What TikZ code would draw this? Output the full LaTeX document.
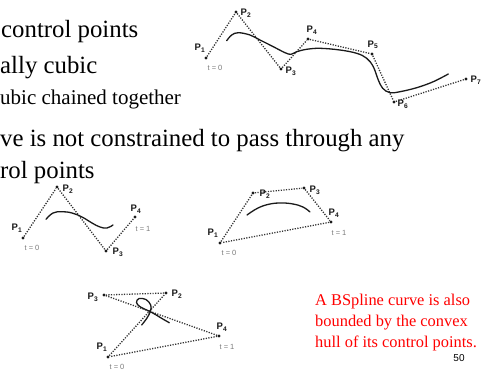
\documentclass[tikz,border=0pt]{standalone}
\usepackage{fontspec}
\setmainfont{Liberation Serif}
\setsansfont{Liberation Sans}
\usetikzlibrary{positioning}
\definecolor{Ink}{HTML}{1A1A1A}
\definecolor{Dots}{HTML}{333333}
\definecolor{Muted}{HTML}{7A7A7A}
\definecolor{Note}{HTML}{FF0000}
\tikzset{
 bullet/.style={anchor=base west, inner sep=0pt, font=\fontsize{24.8}{28}\selectfont},
 subbullet/.style={bullet, font=\fontsize{21}{24}\selectfont},
 note/.style={anchor=base west, inner sep=0pt, text=Note, font=\fontsize{16.4}{20}\selectfont},
 dot/.style={circle, fill=Ink, inner sep=0pt, minimum size=3.4pt},
 plab/.style={inner sep=0pt, text=Ink, font=\sffamily\bfseries\fontsize{9.5}{10}\selectfont},
 tlab/.style={inner sep=0pt, text=Muted, font=\sffamily\fontsize{7.5}{8}\selectfont},
 hull/.style={draw=Dots, line width=1.3pt, dash pattern=on 1.2pt off 1.4pt},
 spline/.style={draw=Ink, line width=1.3pt, line cap=round}
}

\begin{document}
\begin{tikzpicture}[x=1pt,y=-1pt]
\useasboundingbox (0,0) rectangle (486,372);
% slide text
\node[bullet] (l1) at (1,37) {control points};
\node[bullet] (l2) at (0,73) {ally cubic};
\node[subbullet] (l3) at (0,104) {ubic chained together};
\node[bullet] (l4) at (0,146) {ve is not constrained to pass through any};
\node[bullet] (l5) at (0,178) {rol points};
% chained spline, 7 points
\foreach \n/\x/\y/\lx/\ly in {1/206/58/200/48, 2/236/12/246/13, 3/281/69/291/71, 4/308/39/312/30, 5/372/54/373/45, 6/394/102/403/104, 7/466/79/476/80}{
  \node[dot] (a\n) at (\x,\y) {};
  \node[plab] (la\n) at (\lx,\ly) {P\textsubscript{\n}};
}
\node[tlab] (ta) at (215,68) {t = 0};
\draw[hull] (a1) -- (a2) -- (a3) -- (a4) -- (a5) -- (a6) -- (a7);
\draw[spline] plot[smooth, tension=.6] coordinates {(226.7,40.7) (231.7,35) (238.3,32.7) (250,35) (260,40) (273.3,46.7) (285,52.7) (291,54.3) (296.7,51.7) (306.7,49.3) (320,48.3) (340,50) (356.7,53.3) (366.7,58.3) (373.3,66.7) (378.3,80) (382.7,88.3) (390,92.7) (400,91.7) (416.7,87.7) (433.3,81.7) (448.3,74)};
% open hull
\foreach \n/\x/\y/\lx/\ly in {1/23/238/17/228, 2/57/187/68/189, 3/106/251/118/252, 4/135/217/136/209}{
  \node[dot] (b\n) at (\x,\y) {};
  \node[plab] (lb\n) at (\lx,\ly) {P\textsubscript{\n}};
}
\node[tlab] (tb0) at (32,248) {t = 0};
\node[tlab] (tb1) at (143,229) {t = 1};
\draw[hull] (b1) -- (b2) -- (b3) -- (b4);
\draw[spline] plot[smooth, tension=.7] coordinates {(46,219.3) (53,213) (62,211.7) (72,213) (82,217) (92,223) (100,227) (107,228) (113,225)};
% closed hull
\foreach \n/\x/\y/\lx/\ly in {1/220/243/213/233, 2/253/193/265/194, 3/304/188/315/190, 4/331/222/334/213}{
  \node[dot] (c\n) at (\x,\y) {};
  \node[plab] (lc\n) at (\lx,\ly) {P\textsubscript{\n}};
}
\node[tlab] (tc0) at (229,253) {t = 0};
\node[tlab] (tc1) at (339,233) {t = 1};
\draw[hull] (c1) -- (c2) -- (c3) -- (c4) -- (c1);
\draw[spline] plot[smooth, tension=.7] coordinates {(247,215) (258,208) (270,204) (282,203) (293,204) (303,207) (310,212)};
% crossed hull with loop
\foreach \n/\x/\y/\lx/\ly in {1/108/357/102/347, 2/166/293/177/294, 3/104/295/93/297, 4/219/336/222/327}{
  \node[dot] (d\n) at (\x,\y) {};
  \node[plab] (ld\n) at (\lx,\ly) {P\textsubscript{\n}};
}
\node[tlab] (td0) at (117,367) {t = 0};
\node[tlab] (td1) at (227,347) {t = 1};
\draw[hull] (d1) -- (d2) -- (d3) -- (d4) -- (d1);
\draw[spline] plot[smooth, tension=.6] coordinates {(141.7,325) (147,318) (150.5,311) (150.7,305) (146,299.5) (139,298.5) (136.5,302.5) (140,306.7) (146.7,310) (153.3,313.3) (163.3,319.3) (169.3,322.7)};
% note
\node[note] (n1) at (315,305) {A BSpline curve is also};
\node[note] (n2) at (315,326) {bounded by the convex};
\node[note] (n3) at (315,347) {hull of its control points.};
\node[inner sep=0pt, font=\sffamily\fontsize{10}{12}\selectfont] (pg) at (459,358) {50};
\end{tikzpicture}
\end{document}
